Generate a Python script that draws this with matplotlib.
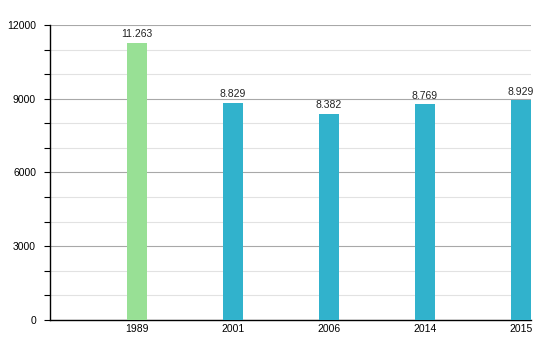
import matplotlib
matplotlib.use('Agg')
import matplotlib.pyplot as plt
from matplotlib.ticker import MultipleLocator

years = ['1989', '2001', '2006', '2014', '2015']
population = [11263, 8829, 8382, 8769, 8929]
bar_colors = ['#98e095', '#31b2cc', '#31b2cc', '#31b2cc', '#31b2cc']

plt.rcParams['font.family'] = ['Liberation Sans', 'DejaVu Sans']

fig = plt.figure(figsize=(5.5, 3.5), dpi=100)
ax = fig.add_axes([0.0909, 0.0857, 0.875, 0.843])

x = list(range(len(years)))
ax.bar(x, population, width=0.21, color=bar_colors, zorder=3)

# value labels with dotted thousands
for xi, v in zip(x, population):
    ax.text(xi, v + 150, f'{v:,}'.replace(',', '.'), ha='center', va='bottom',
            fontsize=7.5, color='#222222', zorder=4)

ax.set_xlim(-0.91, 4.11)
ax.set_ylim(0, 12000)
ax.set_xticks(x)
ax.set_xticklabels(years)
ax.yaxis.set_major_locator(MultipleLocator(3000))
ax.yaxis.set_minor_locator(MultipleLocator(1000))

ax.grid(axis='y', which='major', color='#a8a8a8', linewidth=0.8, zorder=0)
ax.grid(axis='y', which='minor', color='#e2e2e2', linewidth=0.8, zorder=0)

for side in ('top', 'right'):
    ax.spines[side].set_visible(False)
ax.spines['left'].set_color('black')
ax.spines['bottom'].set_color('black')
ax.spines['left'].set_linewidth(1)
ax.spines['bottom'].set_linewidth(1)

ax.tick_params(axis='y', which='both', length=4, width=0.8, labelsize=7.5, pad=6)
ax.tick_params(axis='x', length=0, labelsize=7.5, pad=3)

fig.savefig('out.png', dpi=100)
